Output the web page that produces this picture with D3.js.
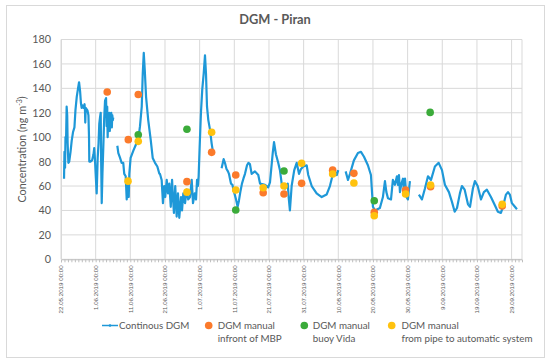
<!DOCTYPE html>
<html>
<head>
<meta charset="utf-8">
<script src="https://cdn.jsdelivr.net/npm/d3@7"></script>
<style>
  body { margin: 0; background: #fff; }
  svg { font-family: Lato, "Open Sans", sans-serif; }
</style>
</head>
<body>
<div id="chart"></div>
<script>
// DGM - Piran, continuous record and manual samples

// continuous DGM (null = no data)
const contDates = [
  "2019-05-22 21","2019-05-23 00","2019-05-23 04","2019-05-23 07","2019-05-23 11","2019-05-23 15","2019-05-23 19","2019-05-23 22",
  "2019-05-24 03","2019-05-24 09","2019-05-24 18","2019-05-25 02","2019-05-25 11","2019-05-25 21","2019-05-26 04","2019-05-26 13",
  "2019-05-26 22","2019-05-27 05","2019-05-27 12","2019-05-27 18","2019-05-27 23","2019-05-28 05","2019-05-28 12","2019-05-28 19",
  "2019-05-28 22","2019-05-29 00","2019-05-29 03","2019-05-29 09","2019-05-29 15","2019-05-29 22","2019-05-30 02","2019-05-30 04",
  "2019-05-30 12","2019-05-30 23","2019-05-31 09","2019-05-31 14","2019-05-31 19","2019-06-01 00","2019-06-01 07","2019-06-01 11",
  "2019-06-01 14","2019-06-01 20","2019-06-02 01","2019-06-02 06","2019-06-02 11","2019-06-02 14","2019-06-02 18","2019-06-02 23",
  "2019-06-03 05","2019-06-03 11","2019-06-03 17","2019-06-04 00","2019-06-04 04","2019-06-04 08","2019-06-04 11","2019-06-04 15",
  "2019-06-04 19","2019-06-04 22","2019-06-05 02","2019-06-05 05","2019-06-05 09","2019-06-05 12","2019-06-05 16","2019-06-05 19",
  "2019-06-05 23","2019-06-06 02","2019-06-06 14",
  "2019-06-07 06","2019-06-07 13","2019-06-08 01","2019-06-08 12","2019-06-08 23","2019-06-09 06","2019-06-09 16","2019-06-09 23",
  "2019-06-10 06","2019-06-10 10","2019-06-10 13","2019-06-10 17","2019-06-11 02","2019-06-11 21","2019-06-12 15","2019-06-13 07",
  "2019-06-13 19","2019-06-14 07","2019-06-14 14","2019-06-14 21","2019-06-15 04","2019-06-15 13","2019-06-16 04","2019-06-16 21",
  "2019-06-17 11","2019-06-18 03","2019-06-18 19","2019-06-19 09","2019-06-19 13","2019-06-20 01","2019-06-20 10","2019-06-20 19",
  "2019-06-21 02","2019-06-21 12","2019-06-21 21","2019-06-22 06","2019-06-22 16","2019-06-23 01","2019-06-23 07","2019-06-23 14",
  "2019-06-23 23","2019-06-24 09","2019-06-24 18","2019-06-25 03","2019-06-25 15","2019-06-25 22","2019-06-26 07","2019-06-26 19",
  "2019-06-27 06","2019-06-27 17","2019-06-28 05","2019-06-28 17","2019-06-29 02","2019-06-29 14","2019-06-29 23","2019-06-30 06",
  "2019-06-30 12","2019-06-30 17","2019-07-01 00","2019-07-01 09","2019-07-01 18","2019-07-02 04","2019-07-02 13","2019-07-02 20",
  "2019-07-03 03","2019-07-03 12","2019-07-04 00","2019-07-04 11","2019-07-04 20","2019-07-06 00",
  "2019-07-07 08","2019-07-07 22","2019-07-08 07","2019-07-08 18","2019-07-09 04","2019-07-09 11","2019-07-09 18","2019-07-10 01",
  "2019-07-10 11","2019-07-10 18","2019-07-11 01","2019-07-11 12","2019-07-11 23","2019-07-12 08","2019-07-12 19","2019-07-13 05",
  "2019-07-13 15","2019-07-14 02","2019-07-14 16","2019-07-15 02","2019-07-15 12","2019-07-16 00","2019-07-16 23","2019-07-17 22",
  "2019-07-18 10","2019-07-19 20","2019-07-20 19","2019-07-21 07","2019-07-22 02","2019-07-22 11","2019-07-23 00","2019-07-23 16",
  "2019-07-24 04","2019-07-24 16","2019-07-25 15","2019-07-26 10","2019-07-26 17","2019-07-27 01","2019-07-27 13","2019-07-28 07",
  "2019-07-29 00","2019-07-29 16","2019-07-30 06","2019-07-30 22","2019-07-31 21","2019-08-01 08","2019-08-02 08","2019-08-03 18",
  "2019-08-05 05","2019-08-06 15","2019-08-07 14","2019-08-08 09","2019-08-09 01","2019-08-09 13","2019-08-10 00","2019-08-11 00",
  "2019-08-12 03","2019-08-12 19","2019-08-13 09","2019-08-14 12","2019-08-15 16","2019-08-16 13","2019-08-17 10","2019-08-18 13",
  "2019-08-19 10","2019-08-20 00","2019-08-20 14","2019-08-22 00","2019-08-22 21","2019-08-23 11","2019-08-23 21","2019-08-24 08",
  "2019-08-25 05","2019-08-25 18","2019-08-26 08","2019-08-26 22","2019-08-27 05","2019-08-27 12","2019-08-27 19","2019-08-28 05",
  "2019-08-28 16","2019-08-28 23","2019-08-29 06","2019-08-29 16","2019-08-30 02","2019-08-30 16","2019-09-01 00",
  "2019-09-02 06","2019-09-03 03","2019-09-04 00","2019-09-04 21","2019-09-05 18","2019-09-06 21","2019-09-07 23","2019-09-08 22",
  "2019-09-09 18","2019-09-10 22","2019-09-11 19","2019-09-12 14","2019-09-13 06","2019-09-14 02","2019-09-14 16","2019-09-15 11",
  "2019-09-16 10","2019-09-17 00","2019-09-17 20","2019-09-18 10","2019-09-19 05","2019-09-20 04","2019-09-21 00","2019-09-21 21",
  "2019-09-23 01","2019-09-24 05","2019-09-25 01","2019-09-25 22","2019-09-26 12","2019-09-27 09","2019-09-27 23","2019-09-28 12",
  "2019-09-29 02","2019-09-29 23","2019-09-30 13"
];
const contValues = [
  66, 88, 75, 100, 98, 125, 118, 95,
  79, 80, 88, 97, 104, 108, 122, 133,
  140, 145, 138, 128, 124, 126, 124, 127,
  122, 112, 124, 123, 122, 118, 100, 80,
  80, 81, 86, 91, 82, 70, 54, 70,
  83, 95, 111, 116, 120, 80, 46, 70,
  92, 115, 130, 132, 109, 125, 100, 118,
  110, 120, 105, 118, 112, 120, 108, 118,
  114, 116, null,
  93, 87, 83, 79, 79, 70, 68, 49,
  65, 55, 51, 70, 83, 89, 94, 98,
  109, 125, 152, 169, 155, 133, 114, 98,
  83, 79, 76, 70, 70, 65, 46, 60,
  51, 65, 54, 62, 43, 65, 51, 38,
  60, 35, 54, 34, 51, 40, 54, 46,
  57, 49, 51, 65, 46, 54, 49, 65,
  60, 68, 92, 120, 139, 152, 167, 152,
  125, 114, 106, 95, 88, null,
  74.5, 82, 79, 74, 72, 70, 66, 62,
  61, 57, 54, 49, 43, 48, 56, 62,
  66, 70, 77, 79, 78, 70, 72, 69,
  62, 61, 59, 63, 87, 96, 86, 79,
  73, 62, 58, 62, 50, 40, 60, 73,
  79, 70, 74, 76, 77, 69, 60, 54,
  51, 53, 60, 69, 72, 69, 73, null,
  72, 65, 70, 81, 87, 88, 84, 77,
  69, 43, 40, 42, 51, 64, 55, 50,
  49, 65, 61, 68, 61, 69, 55, 62,
  66, 54, 66, 51, 49, 64, null,
  53, 49, 58, 68, 65, 76, 79, 73,
  61, 55, 47, 39, 42, 54, 60, 57,
  45, 43, 58, 64, 60, 49, 55, 57,
  51, 44, 39, 38, 43, 53, 55, 53,
  46, 43, 41
];

// DGM manual infront of MBP
const mbpDates = ["2019-06-04 08","2019-06-10 10","2019-06-13 07","2019-06-27 08","2019-07-04 11","2019-07-11 10","2019-07-19 08",
  "2019-07-25 08","2019-07-30 10","2019-08-08 09","2019-08-14 12","2019-08-20 09","2019-08-29 10","2019-09-05 15","2019-09-26 07"];
const mbpValues = [137, 98, 135, 63.6, 87.6, 69, 54.5, 53.5, 62.2, 73, 70.4, 38.5, 56.7, 59.5, 43.7];

// DGM manual buoy Vida
const vidaDates = ["2019-06-13 07","2019-06-27 08","2019-07-11 10","2019-07-25 08","2019-08-20 09","2019-09-05 12"];
const vidaValues = [102, 106.5, 40.4, 72.3, 48, 120.3];

// DGM manual from pipe to automatic system
const pipeDates = ["2019-06-10 08","2019-06-13 07","2019-06-27 08","2019-07-04 11","2019-07-11 10","2019-07-19 08","2019-07-25 08",
  "2019-07-30 10","2019-08-08 09","2019-08-14 12","2019-08-20 09","2019-08-29 10","2019-09-05 15","2019-09-26 07"];
const pipeValues = [64, 96.6, 55, 104, 56.7, 58.6, 60, 78.6, 69.9, 62.5, 35.7, 53.5, 60.8, 45];

const yTicks = [0, 20, 40, 60, 80, 100, 120, 140, 160, 180];
const xStart = "2019-05-22 00", xEnd = "2019-10-02 00";

const parse = d3.timeParse("%Y-%m-%d %H");
const fmt = d3.timeFormat("%-d.%m.%Y %H:%M");

const W = 550, H = 364;
const margin = { top: 39.5, right: 28, bottom: 104.7, left: 61 };
const grey = "#595959", grid = "#d9d9d9";
const colBlue = "#1e98d8", colOrange = "#fb7a2b", colGreen = "#3bab3a", colYellow = "#ffc20e";

const svg = d3.select("#chart").append("svg")
  .attr("width", W).attr("height", H);

// outer chart border
svg.append("rect")
  .attr("x", 6.5).attr("y", 5.5).attr("width", 538).attr("height", 352)
  .attr("fill", "#fff").attr("stroke", "#d9d9d9");

const x = d3.scaleTime()
  .domain([parse(xStart), parse(xEnd)])
  .range([margin.left, W - margin.right]);
const y = d3.scaleLinear()
  .domain([0, 180])
  .range([H - margin.bottom, margin.top]);

// major ticks every 10 days
const xTicks = d3.range(0, 131, 10).map(d => d3.timeDay.offset(parse(xStart), d));

// gridlines
svg.append("g").selectAll("line").data(yTicks).join("line")
  .attr("x1", margin.left).attr("x2", W - margin.right)
  .attr("y1", d => y(d)).attr("y2", d => y(d))
  .attr("stroke", grid);
svg.append("g").selectAll("line").data(xTicks).join("line")
  .attr("x1", d => x(d)).attr("x2", d => x(d))
  .attr("y1", margin.top).attr("y2", H - margin.bottom)
  .attr("stroke", grid);
svg.append("line")
  .attr("x1", W - margin.right).attr("x2", W - margin.right)
  .attr("y1", margin.top).attr("y2", H - margin.bottom)
  .attr("stroke", grid);

// x axis with daily minor ticks
const xAxisG = svg.append("g").attr("transform", `translate(0,${H - margin.bottom})`);
xAxisG.call(d3.axisBottom(x).tickValues(d3.timeDay.range(parse(xStart), parse(xEnd))).tickSize(3).tickFormat(""));
xAxisG.select(".domain").attr("stroke", "#bfbfbf");
xAxisG.selectAll(".tick line").attr("stroke", "#bfbfbf");

const xLab = svg.append("g").attr("transform", `translate(0,${H - margin.bottom})`)
  .call(d3.axisBottom(x).tickValues(xTicks).tickSize(0).tickFormat(fmt));
xLab.select(".domain").remove();
xLab.selectAll("text")
  .attr("transform", "rotate(-90)")
  .attr("x", -6).attr("y", 0).attr("dy", "0.32em")
  .style("text-anchor", "end")
  .attr("font-size", 6.2).attr("fill", grey);

// y axis
const yAxisG = svg.append("g").attr("transform", `translate(${margin.left},0)`)
  .call(d3.axisLeft(y).tickValues(yTicks).tickSize(0).tickPadding(10));
yAxisG.select(".domain").attr("stroke", grid);
yAxisG.selectAll("text").attr("font-size", 10.8).attr("fill", grey).attr("font-family", "Lato, sans-serif");

// title
svg.append("text")
  .attr("x", 275).attr("y", 24)
  .attr("text-anchor", "middle")
  .attr("font-size", 12.8).attr("font-weight", "bold").attr("fill", grey)
  .text("DGM - Piran");

// y label
const yl = svg.append("text")
  .attr("transform", `translate(26,${(margin.top + H - margin.bottom) / 2}) rotate(-90)`)
  .attr("text-anchor", "middle")
  .attr("font-size", 10.8).attr("fill", grey);
yl.append("tspan").text("Concentration (ng m");
yl.append("tspan").attr("dy", -4).attr("font-size", 7).text("-3");
yl.append("tspan").attr("dy", 4).text(")");

// continuous line
const cont = contDates.map((d, i) => ({ date: parse(d), value: contValues[i] }));
const line = d3.line()
  .defined(d => d.value != null)
  .x(d => x(d.date))
  .y(d => y(d.value));
svg.append("path")
  .datum(cont)
  .attr("fill", "none")
  .attr("stroke", colBlue)
  .attr("stroke-width", 2.2)
  .attr("stroke-linejoin", "round")
  .attr("d", line);

// manual samples
function dots(dates, values, color) {
  svg.append("g").selectAll("circle")
    .data(dates.map((d, i) => ({ date: parse(d), value: values[i] })))
    .join("circle")
    .attr("cx", d => x(d.date))
    .attr("cy", d => y(d.value))
    .attr("r", 3.8)
    .attr("fill", color);
}
dots(mbpDates, mbpValues, colOrange);
dots(vidaDates, vidaValues, colGreen);
dots(pipeDates, pipeValues, colYellow);

// legend
const lg = svg.append("g").attr("font-size", 9.8).attr("fill", grey);
lg.append("line").attr("x1", 102).attr("x2", 118).attr("y1", 325.5).attr("y2", 325.5)
  .attr("stroke", colBlue).attr("stroke-width", 1.5);
lg.append("circle").attr("cx", 110).attr("cy", 325.5).attr("r", 1.3).attr("fill", colBlue);
lg.append("text").attr("x", 119).attr("y", 329).text("Continous DGM");

const legItems = [
  { cx: 208.7, tx: 217.7, color: colOrange, lines: ["DGM manual", "infront of MBP"] },
  { cx: 304.3, tx: 312.7, color: colGreen, lines: ["DGM manual", "buoy Vida"] },
  { cx: 391.7, tx: 401.5, color: colYellow, lines: ["DGM manual", "from pipe to automatic system"] }
];
legItems.forEach(it => {
  lg.append("circle").attr("cx", it.cx).attr("cy", 325.5).attr("r", 3.8).attr("fill", it.color);
  it.lines.forEach((t, i) => {
    lg.append("text").attr("x", it.tx).attr("y", 329 + i * 13).text(t);
  });
});
</script>
</body>
</html>
